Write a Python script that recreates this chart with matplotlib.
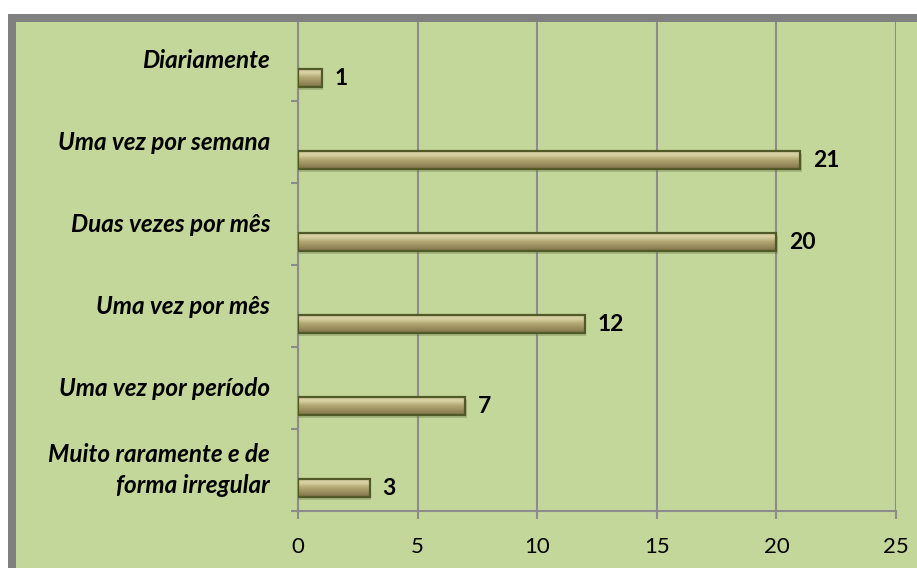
import numpy as np
import matplotlib
matplotlib.use("Agg")
import matplotlib.pyplot as plt
from matplotlib.patches import Rectangle
from matplotlib.colors import LinearSegmentedColormap

plt.rcParams["font.family"] = ["Lato", "DejaVu Sans"]

# data (bottom to top)
categories = ["Muito raramente e de\nforma irregular", "Uma vez por período",
              "Uma vez por mês", "Duas vezes por mês",
              "Uma vez por semana", "Diariamente"]
values = [3, 7, 12, 20, 21, 1]
x_ticks = [0, 5, 10, 15, 20, 25]

W, H = 917, 568
GREEN = "#c4d79b"
GRID = "#8c8c8c"
BAR_EDGE = "#4f5a27"
bar_cmap = LinearSegmentedColormap.from_list(
    "bevel", ["#7d7249", "#9a8e5e", "#b2a774", "#d9d1a3", "#cfc699"])

fig = plt.figure(figsize=(W / 100, H / 100), dpi=100, facecolor="white")

# green panel + grey frame
fig.patches.append(Rectangle((12 / W, -0.2), 1.2, 1.2 - 18 / H,
                             transform=fig.transFigure, facecolor=GREEN,
                             edgecolor="none", zorder=-1))
fig.patches.append(Rectangle((12 / W, -0.2), 1.2, 1.2 - 18 / H,
                             transform=fig.transFigure, facecolor="none",
                             edgecolor="#808080", linewidth=8 * 0.72, zorder=10))

ax = fig.add_axes([298 / W, 1 - 511 / H, (896 - 298) / W, (511 - 19) / H])
ax.set_facecolor("none")

pos = np.arange(len(categories))
off, bh = 0.22, 0.22
for y, v in zip(pos, values):
    y0, y1 = y - off - bh / 2, y - off + bh / 2
    grad = np.linspace(0, 1, 50).reshape(-1, 1)
    ax.imshow(grad, extent=(0, v, y0, y1), origin="lower", aspect="auto",
              cmap=bar_cmap, zorder=3)
    # soft shadow
    ax.add_patch(Rectangle((0.05, y0 - 0.035), v, bh, facecolor="#6b7a45",
                           alpha=0.35, edgecolor="none", zorder=2))
    ax.add_patch(Rectangle((0, y0), v, bh, facecolor="none",
                           edgecolor=BAR_EDGE, linewidth=1.6, zorder=4))
    ax.annotate(str(v), (v, y - off), xytext=(9, 0), textcoords="offset points",
                ha="left", va="center", fontsize=16.5, fontweight="bold",
                color="black")

ax.set_xlim(0, 25)
ax.set_ylim(-0.5, len(categories) - 0.5)
ax.set_xticks(x_ticks)
ax.set_xticklabels([str(t) for t in x_ticks], fontsize=16)
ax.set_yticks(np.arange(-0.5, len(categories), 1.0))
ax.set_yticklabels([])
ax.set_yticks(pos, minor=True)
ax.set_yticklabels(categories, minor=True, fontsize=17.5, fontweight="bold",
                   fontstyle="italic", linespacing=1.45)
ax.tick_params(axis="y", which="minor", length=0, pad=20)
ax.tick_params(axis="y", which="major", length=5, color=GRID, width=1.5)
ax.tick_params(axis="x", length=6, color=GRID, width=1.5, pad=13)
for lbl in ax.get_yticklabels(minor=True):
    lbl.set_ha("right")
    lbl.set_va("center")
for s in ["top", "right"]:
    ax.spines[s].set_visible(False)
for s in ["left", "bottom"]:
    ax.spines[s].set_color(GRID)
    ax.spines[s].set_linewidth(1.5)
ax.grid(axis="x", color=GRID, linewidth=1.5, zorder=1)
ax.set_axisbelow(True)

fig.savefig("out.png", dpi=100, facecolor="white")
